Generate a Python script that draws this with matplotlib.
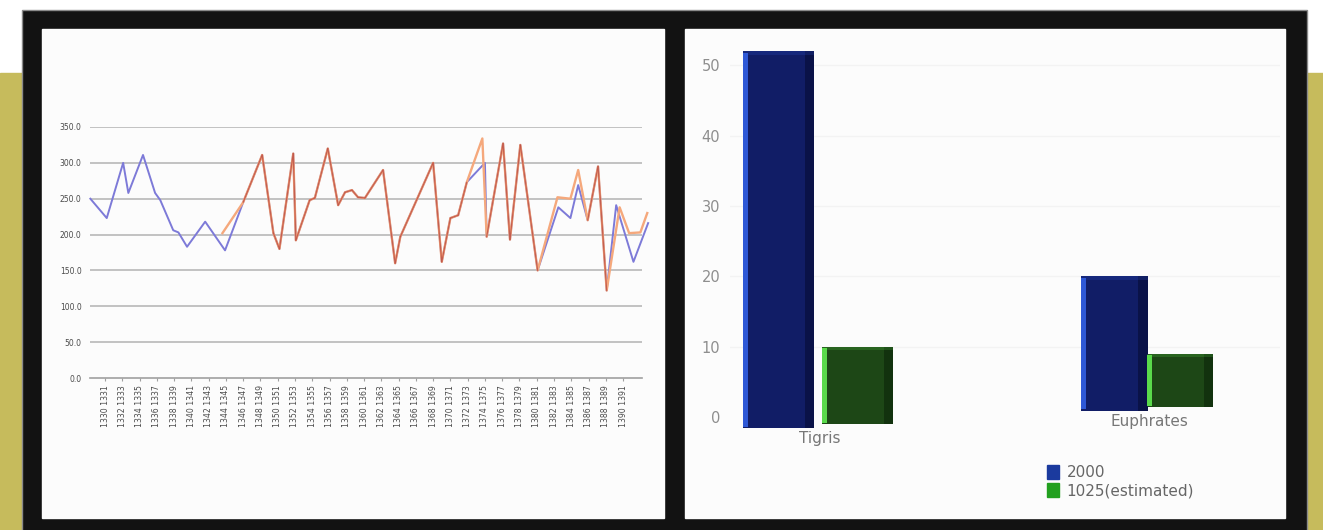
import matplotlib
matplotlib.use("Agg")
import matplotlib.pyplot as plt
from matplotlib.patches import Rectangle, Patch

W, H = 1323, 530

# --- left chart: yearly series (x = year position, y = value) ---
years_a = [1328.8, 1330.7, 1332.6, 1333.2, 1334.9, 1336.3, 1336.9, 1338.4, 1339.0, 1340.0,
           1342.1, 1344.4, 1346.5, 1348.7, 1350.0, 1350.7, 1352.3, 1352.6, 1354.2, 1354.8,
           1356.3, 1357.5, 1358.3, 1359.1, 1359.8, 1360.6, 1362.7, 1364.1, 1364.7, 1368.5,
           1369.5, 1370.5, 1371.4, 1372.4, 1374.5, 1374.7, 1376.6, 1377.4, 1378.6, 1380.6,
           1383.0, 1384.4, 1385.3, 1386.4, 1387.6, 1388.6, 1389.7, 1391.7, 1393.4]
vals_a = [250, 223, 300, 258, 311, 258, 248, 206, 203, 183,
          218, 178, 245, 311, 202, 180, 313, 192, 248, 251,
          320, 241, 259, 262, 252, 251, 290, 160, 197, 300,
          162, 223, 227, 273, 300, 197, 327, 193, 325, 150,
          238, 223, 269, 220, 295, 122, 241, 162, 216]

years_b = [1344.1, 1346.5, 1348.7, 1350.0, 1350.7, 1352.3, 1352.6, 1354.2, 1354.8,
           1356.3, 1357.5, 1358.3, 1359.1, 1359.8, 1360.6, 1362.7, 1364.1, 1364.7, 1368.5,
           1369.5, 1370.5, 1371.4, 1372.4, 1374.2, 1374.7, 1376.6, 1377.4, 1378.6, 1380.6,
           1382.9, 1384.4, 1385.3, 1386.4, 1387.6, 1388.6, 1390.1, 1391.2, 1392.5, 1393.3]
vals_b = [202, 245, 311, 202, 180, 313, 192, 248, 251,
          320, 241, 259, 262, 252, 251, 290, 160, 197, 300,
          162, 223, 227, 273, 334, 197, 327, 193, 325, 150,
          252, 250, 290, 220, 295, 122, 238, 202, 203, 230]

label_years = list(range(1330, 1392, 2))
y_ticks_left = [0, 50, 100, 150, 200, 250, 300, 350]

# --- right chart ---
rivers = ["Tigris", "Euphrates"]
flow_2000 = [52, 20]
flow_1025 = [10, 9]
series_names = ["2000", "1025(estimated)"]
y_ticks_right = [0, 10, 20, 30, 40, 50]


def px_axes(left, top, right, bottom):
    return [left / W, 1 - bottom / H, (right - left) / W, (bottom - top) / H]


fig = plt.figure(figsize=(W / 100, H / 100), dpi=100)
fig.patch.set_facecolor("white")

# backdrop: olive band, black frame, two white panels
bg = fig.add_axes([0, 0, 1, 1], zorder=-5)
bg.set_xlim(0, W)
bg.set_ylim(H, 0)
bg.axis("off")
bg.add_patch(Rectangle((0, 73), W, H - 73, color="#c6bb5c"))
bg.add_patch(Rectangle((22, 10), 1285, H, facecolor="#121212", edgecolor="#8a8a8a", lw=1))
bg.add_patch(Rectangle((42, 29), 622, 489, color="#fcfcfc"))
bg.add_patch(Rectangle((685, 29), 600, 489, color="#fcfcfc"))

# ---------------- left line chart ----------------
ax1 = fig.add_axes(px_axes(90, 127, 642, 378))
ax1.set_facecolor("none")
ax1.set_xlim(1328.76, 1392.69)
ax1.set_ylim(0, 350)
for v in y_ticks_left[1:]:
    ax1.axhline(v, color="#b2b2b2", lw=1.1, zorder=1)
for s in ["top", "right", "left"]:
    ax1.spines[s].set_visible(False)
ax1.spines["bottom"].set_color("#a0a0a0")
ax1.spines["bottom"].set_linewidth(1.2)

ax1.set_yticks(y_ticks_left)
ax1.set_yticklabels([f"{v:.1f}" for v in y_ticks_left], fontsize=5.5, color="#4a4a4a")
ax1.tick_params(axis="y", length=0, pad=6)
ax1.set_xticks([y + 0.5 for y in label_years])
ax1.set_xticklabels([f"{y} {y + 1}" for y in label_years], rotation=90,
                    fontsize=5.6, color="#4a4a4a")
ax1.tick_params(axis="x", length=2, color="#a0a0a0", pad=3)

blue_c, orange_c, both_c = "#7d7ad8", "#f5a87c", "#bd5248"
ax1.plot(years_a, vals_a, color=blue_c, lw=1.4, zorder=3, clip_on=False)
ax1.plot(years_b, vals_b, color=orange_c, lw=1.7, zorder=4, clip_on=False)
# where both series run together the lines read as a darker red
segs_a = set(zip(zip(years_a[:-1], vals_a[:-1]), zip(years_a[1:], vals_a[1:])))
for p, q in zip(zip(years_b[:-1], vals_b[:-1]), zip(years_b[1:], vals_b[1:])):
    if (p, q) in segs_a:
        ax1.plot([p[0], q[0]], [p[1], q[1]], color=both_c, lw=0.9, alpha=0.85,
                 zorder=5, solid_capstyle="round")

# ---------------- right bar chart ----------------
ax2 = fig.add_axes(px_axes(730, 30, 1280, 438))
ax2.set_facecolor("none")
ax2.set_xlim(-0.264, 1.407)
ax2.set_ylim(-3, 55)
for s in ax2.spines.values():
    s.set_visible(False)
for v in y_ticks_right[1:]:
    ax2.axhline(v, color="#f3f3f3", lw=1, zorder=0)
ax2.set_yticks(y_ticks_right)
ax2.set_yticklabels([str(v) for v in y_ticks_right], fontsize=10.5, color="#8e8e8e")
ax2.tick_params(axis="y", length=0, pad=7)
ax2.set_xticks([])


def floor(x):
    # slanted floor of the 3-D view
    return -1.3 + 2.4 * x


# perspective: bars further back are a bit narrower and closer together
widths = [0.218, 0.203]
offsets = [[(-0.117), 0.123], [(-0.097), 0.103]]
styles = [("#111d66", "#2e58d6", "#0a1248"), ("#1d4716", "#5ada4b", "#12320e")]
for k, vals in enumerate([flow_2000, flow_1025]):
    main, light, dark = styles[k]
    for i, v in enumerate(vals):
        width = widths[i]
        xc = i + offsets[i][k]
        base = floor(xc)
        ax2.bar(xc, v - base, width, bottom=base, color=main, zorder=3)
        ax2.bar(xc - width / 2 + 0.008, v - base - 0.4, 0.016, bottom=base + 0.2,
                color=light, zorder=4)
        ax2.bar(xc + width / 2 - 0.014, v - base, 0.028, bottom=base, color=dark, zorder=4)
        ax2.bar(xc, 0.5, width, bottom=v - 0.5, color=light, alpha=0.2, zorder=5)

for i, name in enumerate(rivers):
    ax2.text(i + 0.01, floor(i) - 1.7, name, ha="center", va="center",
             fontsize=11, color="#777777")

handles = [Patch(color="#1b3a9e"), Patch(color="#22a01f")]
fig.legend(handles, series_names, loc="upper left", bbox_to_anchor=(1033 / W, 1 - 451 / H),
           frameon=False, fontsize=11, handlelength=0.8, handleheight=1.1,
           handletextpad=0.5, labelspacing=0.15, labelcolor="#666666")

fig.savefig("out.png", dpi=100)
